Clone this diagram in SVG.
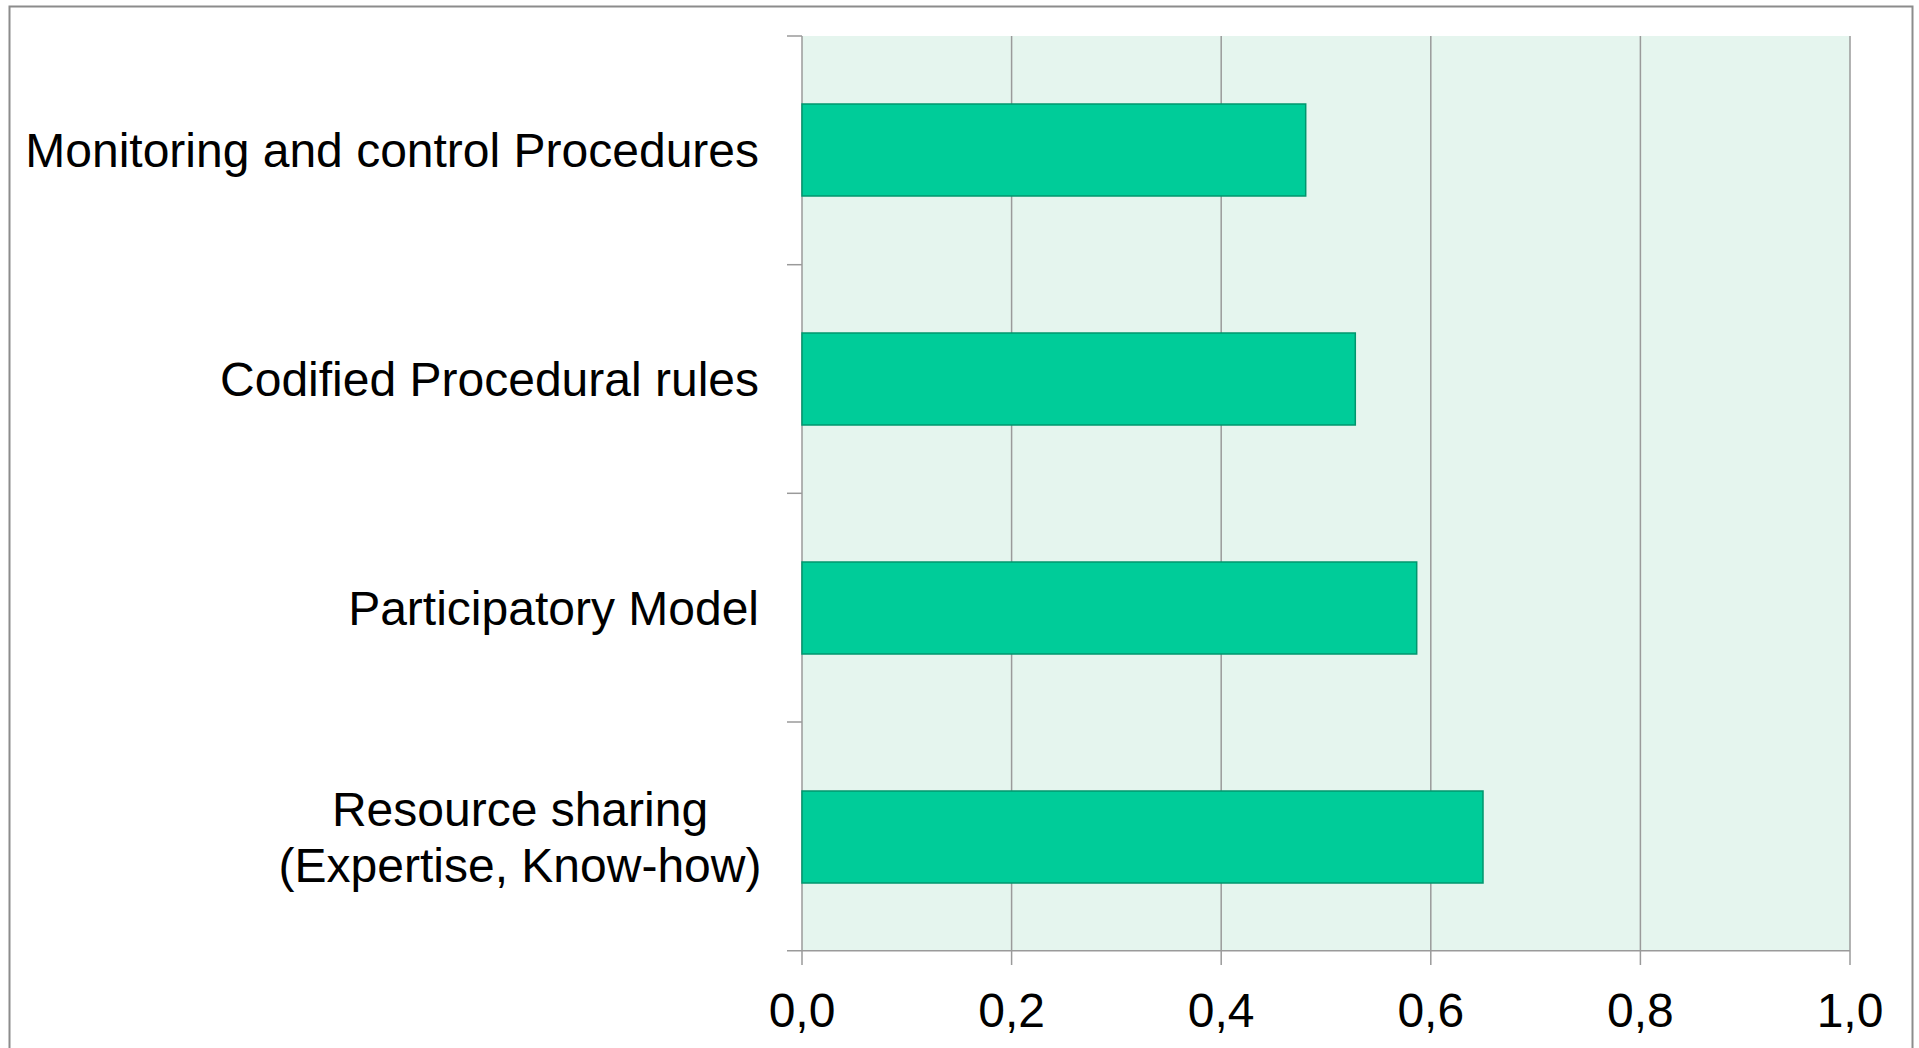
<svg xmlns="http://www.w3.org/2000/svg" width="1919" height="1048" viewBox="0 0 1919 1048">
<style>
.lbl{font-family:"Liberation Sans",Arial,sans-serif;font-size:48px;fill:#000}
.grid{stroke:#9a9a9a;stroke-width:1.5;fill:none}
.bar{fill:#00CC99;stroke:#00966e;stroke-width:1.5}
</style>
<rect x="0" y="0" width="1919" height="1048" fill="#fff"/>
<rect x="9.5" y="6.5" width="1903" height="1060" fill="#fff" stroke="#8c8c8c" stroke-width="2"/>
<g id="plot">
<rect x="802" y="36" width="1048" height="914.7" fill="#E5F5EE"/>
<g class="grid">
<line x1="1011.6" y1="36" x2="1011.6" y2="965"/>
<line x1="1221.2" y1="36" x2="1221.2" y2="965"/>
<line x1="1430.8" y1="36" x2="1430.8" y2="965"/>
<line x1="1640.4" y1="36" x2="1640.4" y2="965"/>
<line x1="1850" y1="36" x2="1850" y2="965"/>
<line x1="802" y1="36" x2="802" y2="965"/>
<line x1="787" y1="950.7" x2="1850" y2="950.7"/>
<line x1="787" y1="36" x2="802" y2="36"/>
<line x1="787" y1="264.7" x2="802" y2="264.7"/>
<line x1="787" y1="493.3" x2="802" y2="493.3"/>
<line x1="787" y1="722" x2="802" y2="722"/>
</g>
</g>
<g id="bars">
<rect id="bar1" class="bar" x="802" y="104" width="503.7" height="92"/>
<rect id="bar2" class="bar" x="802" y="333" width="553.3" height="92"/>
<rect id="bar3" class="bar" x="802" y="562" width="614.7" height="92"/>
<rect id="bar4" class="bar" x="802" y="791" width="681" height="92"/>
</g>
<g id="ylabels" class="lbl">
<text x="759" y="166.5" text-anchor="end">Monitoring and control Procedures</text>
<text x="759" y="395.5" text-anchor="end">Codified Procedural rules</text>
<text x="759" y="624.5" text-anchor="end">Participatory Model</text>
<text x="520" y="825.5" text-anchor="middle">Resource sharing</text>
<text x="520" y="881.5" text-anchor="middle">(Expertise, Know-how)</text>
</g>
<g id="xlabels" class="lbl" text-anchor="middle">
<text x="802" y="1026.7">0,0</text>
<text x="1011.6" y="1026.7">0,2</text>
<text x="1221.2" y="1026.7">0,4</text>
<text x="1430.8" y="1026.7">0,6</text>
<text x="1640.4" y="1026.7">0,8</text>
<text x="1850" y="1026.7">1,0</text>
</g>
</svg>
